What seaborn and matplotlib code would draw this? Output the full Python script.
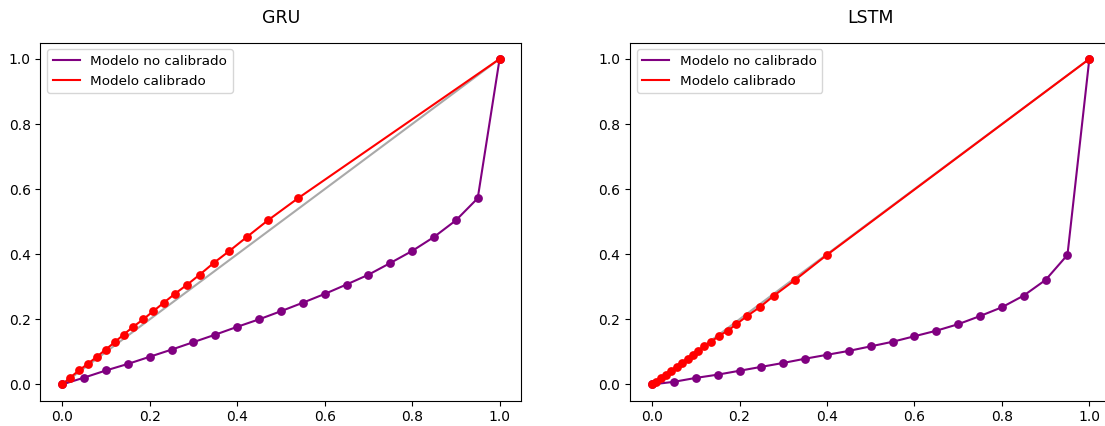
import numpy as np
import pandas as pd
import matplotlib
matplotlib.use('Agg')
import matplotlib.pyplot as plt
import seaborn as sns

# probabilidades predichas (bins) del modelo sin calibrar
prob_bins = [0.0, 0.05, 0.1, 0.15, 0.2, 0.25, 0.3, 0.35, 0.4, 0.45, 0.5,
             0.55, 0.6, 0.65, 0.7, 0.75, 0.8, 0.85, 0.9, 0.95, 1.0]

# GRU
gru_frac = [0.0, 0.021, 0.043, 0.063, 0.085, 0.107, 0.13, 0.153, 0.177, 0.2, 0.225,
            0.251, 0.278, 0.307, 0.337, 0.373, 0.41, 0.453, 0.504, 0.572, 1.0]
gru_cal = [0.0, 0.018, 0.038, 0.058, 0.079, 0.099, 0.12, 0.14, 0.162, 0.185, 0.208,
           0.232, 0.257, 0.286, 0.314, 0.346, 0.382, 0.422, 0.47, 0.539, 1.0]

# LSTM
lstm_frac = [0.0, 0.008, 0.02, 0.03, 0.042, 0.054, 0.066, 0.079, 0.091, 0.103, 0.117,
             0.131, 0.148, 0.165, 0.185, 0.21, 0.237, 0.273, 0.321, 0.398, 1.0]
lstm_cal = [0.0, 0.009, 0.021, 0.032, 0.044, 0.056, 0.069, 0.082, 0.094, 0.106, 0.119,
            0.135, 0.152, 0.173, 0.193, 0.217, 0.246, 0.279, 0.327, 0.4, 1.0]

modelos = [('GRU', gru_frac, gru_cal), ('LSTM', lstm_frac, lstm_cal)]

fig = plt.figure(figsize=(11.05, 4.26), dpi=100)
axes = [fig.add_axes([0.0366, 0.0594, 0.4353, 0.8404]),
        fig.add_axes([0.5703, 0.0594, 0.4353, 0.8404])]

for ax, (nombre, frac, cal) in zip(axes, modelos):
    # diagonal de calibracion perfecta
    sns.lineplot(x=[0, 1], y=[0, 1], color='darkgray', linewidth=1.5, ax=ax)
    sns.lineplot(x=prob_bins, y=frac, color='purple', linewidth=1.5, sort=False,
                 label='Modelo no calibrado', ax=ax)
    sns.lineplot(x=cal, y=frac, color='red', linewidth=1.5, sort=False,
                 label='Modelo calibrado', ax=ax)
    sns.scatterplot(x=prob_bins, y=frac, color='purple', s=40, linewidth=0,
                    zorder=3, ax=ax)
    sns.scatterplot(x=cal, y=frac, color='red', s=40, linewidth=0,
                    zorder=3, ax=ax)
    ax.set_xlim(-0.05, 1.05)
    ax.set_ylim(-0.05, 1.05)
    ax.set_xticks([0.0, 0.2, 0.4, 0.6, 0.8, 1.0])
    ax.set_yticks([0.0, 0.2, 0.4, 0.6, 0.8, 1.0])
    ax.set_xlabel('')
    ax.set_ylabel('')
    ax.set_title(nombre, fontsize=12.5, fontweight='medium', pad=14)
    ax.legend(loc='upper left', fontsize=9.7)

plt.savefig('out.png', dpi=100)
